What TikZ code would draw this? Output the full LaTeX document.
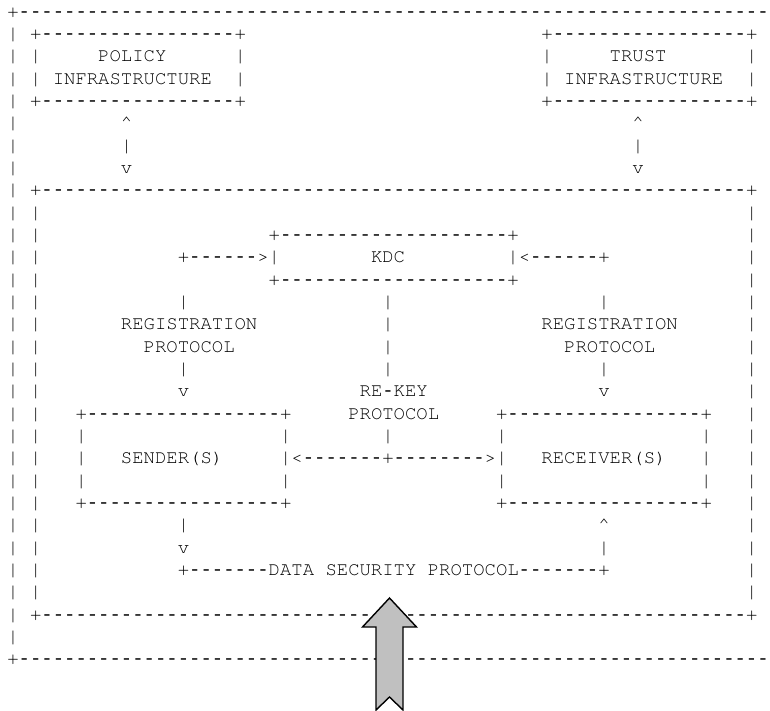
\documentclass[tikz,border=0pt]{standalone}
\usepackage{fontspec}
\setmonofont{texgyrecursor-regular.otf}
% hyphens are taken from a face whose dash leaves a gap between cells
\newfontfamily\dashface{Liberation Mono}

% a run of n hyphens
\ExplSyntaxOn
\cs_new:Npn \hrun #1 { {\dashface \prg_replicate:nn {#1} {-}} }
\ExplSyntaxOff

\definecolor{arrowgray}{RGB}{192,192,192}

\tikzset{
  asc/.style={font=\ttfamily\fontsize{18.94pt}{22pt}\selectfont,
    inner sep=0pt, outer sep=0pt, anchor=base west, text=black},
  blockarrow/.style={draw=black, line width=1.4pt, fill=arrowgray, line join=miter}
}

% character cell grid: column #2, row #3
\newcommand\asciiat[4]{\node[asc] (#1) at ({7.32pt+11.365pt*(#2)},{-17.2pt-22.33pt*(#3)}) {#4};}

\begin{document}
\begin{tikzpicture}
\useasboundingbox (0,0) rectangle (770pt,-711pt);

% outer frame (its right side runs past the page)
\asciiat{outerTop}{0}{0}{+\hrun{66}}
\foreach \r in {1,...,28} {\asciiat{outerL\r}{0}{\r}{|}}
\asciiat{outerBot}{0}{29}{+\hrun{66}}

% policy infrastructure
\asciiat{polTop}{2}{1}{+\hrun{17}+}
\asciiat{polL2}{2}{2}{|}
\asciiat{polR2}{20}{2}{|}
\asciiat{polL3}{2}{3}{|}
\asciiat{polR3}{20}{3}{|}
\asciiat{polA}{8}{2}{POLICY}
\asciiat{polB}{4}{3}{INFRASTRUCTURE}
\asciiat{polBot}{2}{4}{+\hrun{17}+}
\asciiat{polUp}{10}{5}{\textasciicircum}
\asciiat{polMid}{10}{6}{|}
\asciiat{polDn}{10}{7}{v}

% trust infrastructure
\asciiat{trTop}{47}{1}{+\hrun{17}+}
\asciiat{trL2}{47}{2}{|}
\asciiat{trR2}{65}{2}{|}
\asciiat{trL3}{47}{3}{|}
\asciiat{trR3}{65}{3}{|}
\asciiat{trA}{53}{2}{TRUST}
\asciiat{trB}{49}{3}{INFRASTRUCTURE}
\asciiat{trBot}{47}{4}{+\hrun{17}+}
\asciiat{trUp}{55}{5}{\textasciicircum}
\asciiat{trMid}{55}{6}{|}
\asciiat{trDn}{55}{7}{v}

% inner frame
\asciiat{innTop}{2}{8}{+\hrun{62}+}
\foreach \r in {9,...,26} {\asciiat{innL\r}{2}{\r}{|}\asciiat{innR\r}{65}{\r}{|}}
\asciiat{innBot}{2}{27}{+\hrun{62}+}

% KDC
\asciiat{kdcTop}{23}{10}{+\hrun{20}+}
\asciiat{kdcInL}{15}{11}{+\hrun{6}>|}
\asciiat{kdc}{32}{11}{KDC}
\asciiat{kdcInR}{44}{11}{|<\hrun{6}+}
\asciiat{kdcBot}{23}{12}{+\hrun{20}+}

% registration protocol, sender side
\asciiat{regLa}{15}{13}{|}
\asciiat{regL}{10}{14}{REGISTRATION}
\asciiat{regLp}{12}{15}{PROTOCOL}
\asciiat{regLb}{15}{16}{|}
\asciiat{regLv}{15}{17}{v}

% registration protocol, receiver side
\asciiat{regRa}{52}{13}{|}
\asciiat{regR}{47}{14}{REGISTRATION}
\asciiat{regRp}{49}{15}{PROTOCOL}
\asciiat{regRb}{52}{16}{|}
\asciiat{regRv}{52}{17}{v}

% re-key protocol
\foreach \r in {13,...,16} {\asciiat{rk\r}{33}{\r}{|}}
\asciiat{rkA}{31}{17}{RE\hrun{1}KEY}
\asciiat{rkB}{30}{18}{PROTOCOL}
\asciiat{rk19}{33}{19}{|}

% sender(s)
\asciiat{sndTop}{6}{18}{+\hrun{17}+}
\asciiat{sndL19}{6}{19}{|}
\asciiat{sndR19}{24}{19}{|}
\asciiat{sndL20}{6}{20}{|}
\asciiat{snd}{10}{20}{SENDER(S)}
\asciiat{sndL21}{6}{21}{|}
\asciiat{sndR21}{24}{21}{|}
\asciiat{sndBot}{6}{22}{+\hrun{17}+}

% re-key link between sender(s) and receiver(s)
\asciiat{rkLink}{24}{20}{|<\hrun{7}+\hrun{8}>|}

% receiver(s)
\asciiat{rcvTop}{43}{18}{+\hrun{17}+}
\asciiat{rcvL19}{43}{19}{|}
\asciiat{rcvR19}{61}{19}{|}
\asciiat{rcv}{47}{20}{RECEIVER(S)}
\asciiat{rcvR20}{61}{20}{|}
\asciiat{rcvL21}{43}{21}{|}
\asciiat{rcvR21}{61}{21}{|}
\asciiat{rcvBot}{43}{22}{+\hrun{17}+}

% data security protocol
\asciiat{dsA}{15}{23}{|}
\asciiat{dsB}{15}{24}{v}
\asciiat{dsC}{52}{23}{\textasciicircum}
\asciiat{dsD}{52}{24}{|}
\asciiat{ds}{15}{25}{+\hrun{7}DATA SECURITY PROTOCOL\hrun{7}+}

% block arrow entering from below
\draw[blockarrow] (389.5pt,-598pt) -- (416.5pt,-627pt) -- (403pt,-627pt)
  -- (403pt,-710pt) -- (389.5pt,-697pt) -- (376pt,-710pt) -- (376pt,-627pt)
  -- (362.5pt,-627pt) -- cycle;
\end{tikzpicture}
\end{document}
